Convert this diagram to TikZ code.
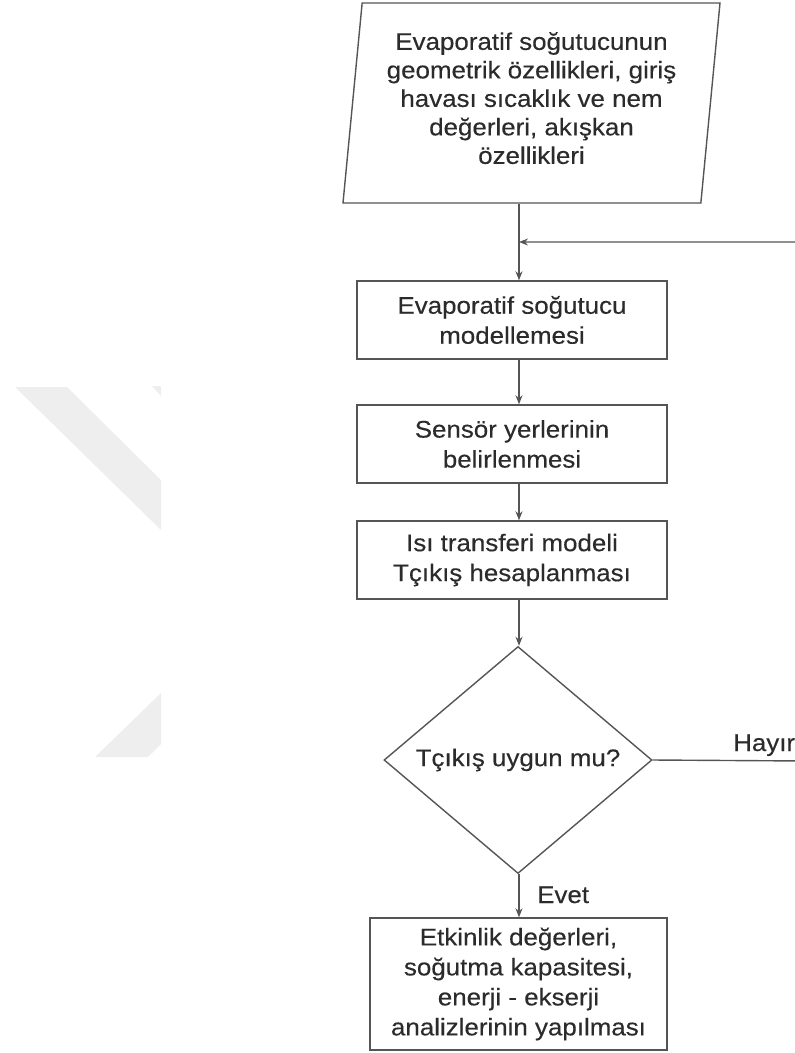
\documentclass[tikz,border=0pt]{standalone}
\usepackage{fontspec}
\setmainfont{Liberation Sans}[FakeStretch=1.08,FakeBold=0.3]
\usepackage{xcolor}
\usetikzlibrary{shapes.geometric,arrows.meta}
\definecolor{linegray}{HTML}{555555}
\definecolor{textgray}{HTML}{2B2B2B}
\definecolor{markgray}{HTML}{EEEEEE}

\begin{document}
\begin{tikzpicture}[
    x=1pt,
    y=-1pt,
    >={Stealth[length=9pt,width=7pt]},
    font=\fontsize{24}{30}\selectfont,
    box/.style={
        draw=linegray,
        line width=1.4pt,
        minimum width=310pt,
        minimum height=78pt,
        inner sep=0pt,
        align=center,
        text=textgray
    },
    io/.style={
        trapezium,
        draw=linegray,
        line width=1.4pt,
        trapezium left angle=82.3,
        trapezium right angle=97.7,
        trapezium stretches body=true,
        minimum width=377pt,
        minimum height=200pt,
        inner sep=0pt,
        align=center,
        text=textgray,
        font=\fontsize{24}{28.5}\selectfont
    },
    decision/.style={
        diamond,
        draw=linegray,
        line width=1.4pt,
        minimum width=268pt,
        minimum height=222pt,
        inner sep=0pt,
        text=textgray
    },
    lbl/.style={text=textgray, inner sep=0pt},
    arr/.style={->, draw=linegray, line width=1.4pt}
]
\useasboundingbox (0,0) rectangle (795,1053);

% faint background mark
\fill[markgray] (15,387) -- (67,387) -- (161,480) -- (161,530) -- cycle;
\fill[markgray] (152,386) -- (161,386) -- (161,396) -- cycle;
\fill[markgray] (95,757) -- (148,757) -- (161,744) -- (161,693) -- cycle;

% input
\node[io] (input) at (531.5,103)
{Evaporatif soğutucunun\\
geometrik özellikleri, giriş\\
havası sıcaklık ve nem\\
değerleri, akışkan\\
özellikleri\rule[-10pt]{0pt}{10pt}};

\coordinate (join) at (519,242);

% process steps
\node[box] (model) at (512,320)
{Evaporatif soğutucu\\
modellemesi};

\node[box] (sensor) at (512,444)
{Sensör yerlerinin\\
belirlenmesi};

\node[box] (heat) at (512,560)
{Isı transferi modeli\\
Tçıkış hesaplanması};

\node[decision] (check) at (518,760)
{Tçıkış uygun mu?};

\node[box, minimum width=297pt, minimum height=132pt] (result) at (518.5,984)
{Etkinlik değerleri,\\
soğutma kapasitesi,\\
enerji - ekserji\\
analizlerinin yapılması};

\coordinate (ret) at (806,761);

\node[lbl, anchor=base west] (yes) at (537,903) {Evet};
\node[lbl, anchor=base west] (no) at (733,751) {Hayır};

\draw[arr] (input.south -| join) -- (model.north -| join);
\draw[arr] (model.south -| join) -- (sensor.north -| join);
\draw[arr] (sensor.south -| join) -- (heat.north -| join);
\draw[arr] (heat.south -| join) -- (check.north -| join);
\draw[arr] (check.south -| join) -- (result.north -| join);
\draw[arr] (check.east) -- (ret) |- (join);

\end{tikzpicture}
\end{document}
